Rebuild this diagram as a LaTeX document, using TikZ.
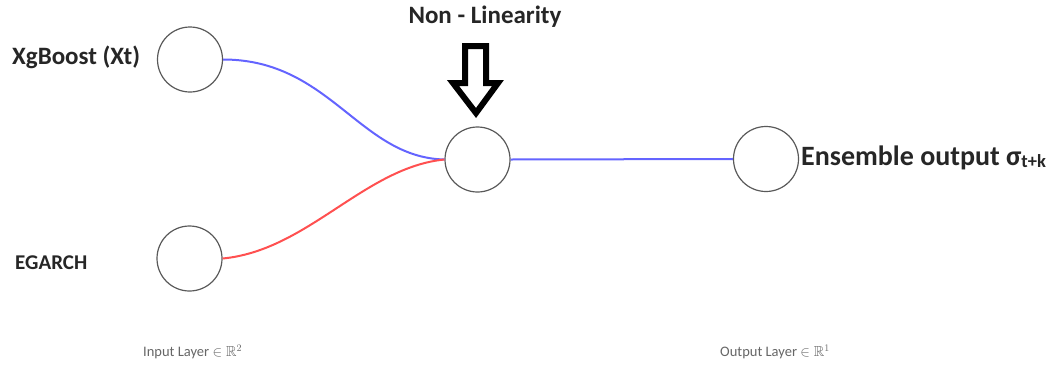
\documentclass[tikz,border=0pt]{standalone}
\usepackage{fontspec}
\usepackage{amssymb}
\setmainfont{Carlito}
\definecolor{wireblue}{RGB}{100,100,255}
\definecolor{wirered}{RGB}{255,80,80}
\begin{document}
\begin{tikzpicture}[x=1pt,y=-1pt,
  neuron/.style={circle,draw=black!65,line width=1.2pt,minimum size=65pt,inner sep=0pt},
  title/.style={font=\fontsize{25}{27}\selectfont\bfseries,text=black!85,inner sep=0pt},
  layer/.style={font=\fontsize{14.5}{16}\selectfont,text=black!60,inner sep=0pt},
  wire/.style={line width=2pt}]
\useasboundingbox (0,0) rectangle (1061,381);

% neurons
\node[neuron] (in1) at (190,59.5) {};
\node[neuron] (in2) at (189.5,258.5) {};
\node[neuron] (hid) at (477.5,159.5) {};
\node[neuron] (out) at (766,159) {};

% labels
\node[title,anchor=west] (lxg) at (12,57) {XgBoost (Xt)};
\node[title,anchor=west,font=\fontsize{21}{23}\selectfont\bfseries] (leg) at (15,263) {EGARCH};
\node[title] (lnl) at (485,17) {Non - Linearity};
\node[title,anchor=west,font=\fontsize{28}{30}\selectfont\bfseries] (lens) at (801,158)
  {Ensemble output σ\raisebox{-2pt}{\fontsize{18.5}{18.5}\selectfont t+k}};
\node[layer,anchor=west] (lin) at (143,352) {Input Layer $\in\mathbb{R}^{2}$};
\node[layer,anchor=west] (lout) at (720,352) {Output Layer $\in\mathbb{R}^{1}$};

% connections
\draw[wire,wireblue] (in1.east) .. controls +(107,0) and +(-85,-2) .. (hid.west);
\draw[wire,wirered] (in2.east) .. controls +(85,-8) and +(-80,8) .. (hid.west);
\draw[wire,wireblue] (hid.east) -- (out.west);

% block arrow pointing at the hidden neuron
\draw[line width=6pt,line join=miter] (465,46) -- (486,46) -- (486,83) -- (498,83)
  -- (476,113) -- (453,83) -- (465,83) -- cycle;
\end{tikzpicture}
\end{document}
